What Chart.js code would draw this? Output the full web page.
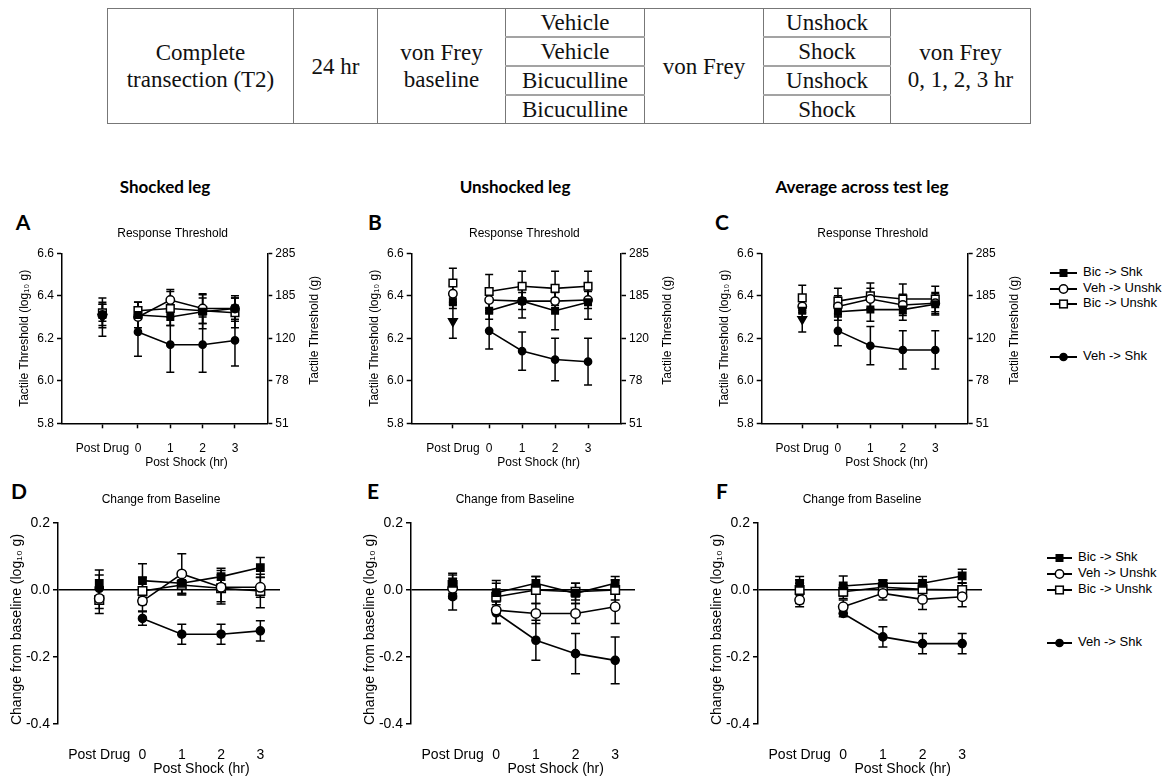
<!DOCTYPE html>
<html lang="en">
<head>
<meta charset="UTF-8">
<title>Bicuculline and shock: von Frey thresholds</title>
<script src="https://cdn.jsdelivr.net/npm/chart.js@4.4.0/dist/chart.umd.min.js"></script>
<style>
  html, body {
    margin: 0;
    padding: 0;
    background: #fff;
    width: 1168px;
    height: 778px;
    overflow: hidden;
    position: relative;
    font-family: 'Liberation Sans', Arial, sans-serif;
  }
  #design {
    position: absolute;
    left: 107px;
    top: 8px;
    width: 923px;
    border-collapse: collapse;
    table-layout: fixed;
    font-family: 'Liberation Serif', 'Times New Roman', serif;
    font-size: 23px;
    color: #111;
  }
  #design td {
    border: 1px solid #777;
    text-align: center;
    vertical-align: middle;
    padding: 0;
    height: 27px;
    line-height: 27px;
  }
  #design td.sub { border-top: 2px solid #a3a3a3; }
  .head, .letter {
    position: absolute;
    transform: translate(-50%, -50%);
    white-space: nowrap;
    font-family: Lato, 'Open Sans', sans-serif;
    font-weight: bold;
    color: #000;
  }
  .head { font-size: 17px; }
  .letter { font-size: 21px; }
  canvas { position: absolute; }
  .lg {
    position: absolute;
    height: 14px;
    font-size: 13px;
    line-height: 14px;
    white-space: nowrap;
    color: #000;
  }
  .lg svg { position: absolute; left: 0; top: 0; }
  .lg span { position: absolute; top: -1px; }
</style>
</head>
<body>

<table id="design">
  <colgroup>
    <col style="width:186px"><col style="width:84px"><col style="width:128px"><col style="width:139px">
    <col style="width:119px"><col style="width:127px"><col style="width:140px">
  </colgroup>
  <tr>
    <td rowspan="4">Complete<br>transection (T2)</td>
    <td rowspan="4">24 hr</td>
    <td rowspan="4">von Frey<br>baseline</td>
    <td>Vehicle</td>
    <td rowspan="4">von Frey</td>
    <td>Unshock</td>
    <td rowspan="4">von Frey<br>0, 1, 2, 3 hr</td>
  </tr>
  <tr><td class="sub">Vehicle</td><td class="sub">Shock</td></tr>
  <tr><td class="sub">Bicuculline</td><td class="sub">Unshock</td></tr>
  <tr><td class="sub">Bicuculline</td><td class="sub">Shock</td></tr>
</table>

<div class="head" style="left:165px; top:186px">Shocked leg</div>
<div class="head" style="left:515px; top:186px">Unshocked leg</div>
<div class="head" style="left:862px; top:186px">Average across test leg</div>

<div class="letter" style="left:23px; top:221px">A</div>
<div class="letter" style="left:375px; top:221px">B</div>
<div class="letter" style="left:722px; top:221px">C</div>
<div class="letter" style="left:19px; top:490px">D</div>
<div class="letter" style="left:373px; top:490px">E</div>
<div class="letter" style="left:722px; top:490px">F</div>

<canvas id="cA" width="340" height="280" style="left:0px; top:200px"></canvas>
<canvas id="cB" width="360" height="280" style="left:340px; top:200px"></canvas>
<canvas id="cC" width="330" height="280" style="left:700px; top:200px"></canvas>
<canvas id="cD" width="340" height="298" style="left:0px; top:480px"></canvas>
<canvas id="cE" width="360" height="298" style="left:340px; top:480px"></canvas>
<canvas id="cF" width="330" height="298" style="left:700px; top:480px"></canvas>

<div id="legendTop"></div>
<div id="legendBottom"></div>

<script>
    // x positions and labels (Post Drug sits a little before hour 0)
    const xLabels = ['Post Drug', '0', '1', '2', '3'];
    const xPos = [-1.1, 0, 1, 2, 3];
    const seriesNames = ['Bic -> Shk', 'Veh -> Unshk', 'Bic -> Unshk', 'Veh -> Shk'];
    const logTicks = [5.8, 6.0, 6.2, 6.4, 6.6];
    const gramTicks = ['51', '78', '120', '185', '285'];
    const changeTicks = [-0.4, -0.2, 0.0, 0.2];

    // rows: Bic->Shk, Veh->Unshk, Bic->Unshk, Veh->Shk ; cols: Post Drug, 0, 1, 2, 3
    const shockedThr = [
        [6.31, 6.31, 6.30, 6.325, 6.34],
        [6.31, 6.30, 6.38, 6.34, 6.34],
        [6.32, 6.33, 6.34, 6.33, 6.32],
        [6.30, 6.23, 6.17, 6.17, 6.19]
    ];
    const shockedThrSem = [
        [0.06, 0.06, 0.04, 0.08, 0.06],
        [0.05, 0.07, 0.05, 0.07, 0.05],
        [0.04, 0.04, 0.08, 0.06, 0.07],
        [0.09, 0.115, 0.13, 0.13, 0.12]
    ];
    const unshockedThr = [
        [6.37, 6.33, 6.375, 6.33, 6.37],
        [6.41, 6.38, 6.375, 6.375, 6.38],
        [6.46, 6.42, 6.445, 6.435, 6.445],
        [6.28, 6.235, 6.14, 6.10, 6.09]
    ];
    const unshockedThrSem = [
        [0.03, 0.04, 0.08, 0.09, 0.08],
        [0.04, 0.05, 0.04, 0.04, 0.04],
        [0.07, 0.08, 0.07, 0.08, 0.07],
        [0.08, 0.085, 0.09, 0.10, 0.11]
    ];
    const averageThr = [
        [6.33, 6.325, 6.335, 6.335, 6.36],
        [6.35, 6.35, 6.385, 6.357, 6.365],
        [6.39, 6.375, 6.40, 6.385, 6.385],
        [6.29, 6.235, 6.165, 6.145, 6.145]
    ];
    const averageThrSem = [
        [0.03, 0.04, 0.055, 0.05, 0.05],
        [0.03, 0.05, 0.05, 0.05, 0.05],
        [0.06, 0.06, 0.06, 0.07, 0.06],
        [0.06, 0.07, 0.09, 0.09, 0.09]
    ];
    const shockedChange = [
        [0.02, 0.028, 0.02, 0.04, 0.067],
        [-0.025, -0.033, 0.048, 0.008, 0.008],
        [-0.03, -0.003, 0.015, 0.005, -0.003],
        [0.005, -0.085, -0.132, -0.132, -0.122]
    ];
    const shockedChangeSem = [
        [0.04, 0.05, 0.03, 0.025, 0.03],
        [0.03, 0.03, 0.06, 0.05, 0.03],
        [0.04, 0.04, 0.03, 0.04, 0.05],
        [0.04, 0.02, 0.03, 0.03, 0.03]
    ];
    const unshockedChange = [
        [0.02, -0.008, 0.02, -0.01, 0.02],
        [0.005, -0.06, -0.07, -0.07, -0.05],
        [0.015, -0.02, 0.0, -0.005, 0.0],
        [-0.02, -0.068, -0.15, -0.19, -0.21]
    ];
    const unshockedChangeSem = [
        [0.03, 0.036, 0.02, 0.03, 0.02],
        [0.03, 0.04, 0.03, 0.03, 0.05],
        [0.03, 0.04, 0.04, 0.025, 0.03],
        [0.04, 0.032, 0.06, 0.06, 0.07]
    ];
    const averageChange = [
        [0.02, 0.012, 0.02, 0.02, 0.042],
        [-0.03, -0.05, -0.01, -0.028, -0.02],
        [0.0, -0.005, 0.008, 0.002, 0.0],
        [-0.01, -0.07, -0.14, -0.16, -0.16]
    ];
    const averageChangeSem = [
        [0.02, 0.03, 0.01, 0.02, 0.02],
        [0.02, 0.02, 0.02, 0.03, 0.03],
        [0.03, 0.02, 0.02, 0.02, 0.02],
        [0.03, 0.01, 0.03, 0.03, 0.03]
    ];

    const FONT = "'Liberation Sans', Arial, sans-serif";
    Chart.defaults.font.family = FONT;
    Chart.defaults.color = '#000';

    // marker looks per series: filled square, open circle, open square, filled circle
    const markers = [
        { style: 'rect', r: 4.6, fill: '#000' },
        { style: 'circle', r: 4.2, fill: '#fff' },
        { style: 'rect', r: 5.4, fill: '#fff' },
        { style: 'circle', r: 3.6, fill: '#000' }
    ];

    // error bars, drawn under the lines and markers
    const errorBars = {
        id: 'errorBars',
        beforeDatasetsDraw(chart, args, opts) {
            const ctx = chart.ctx;
            const ys = chart.scales.y;
            ctx.save();
            ctx.strokeStyle = '#000';
            ctx.lineWidth = 1.5;
            chart.data.datasets.forEach((ds, i) => {
                const meta = chart.getDatasetMeta(i);
                ds.data.forEach((pt, j) => {
                    if (pt.y == null || !pt.e) return;
                    const x = meta.data[j].x;
                    const y1 = ys.getPixelForValue(pt.y + pt.e);
                    const y2 = ys.getPixelForValue(pt.y - pt.e);
                    const c = opts.cap;
                    ctx.beginPath();
                    ctx.moveTo(x, y1); ctx.lineTo(x, y2);
                    ctx.moveTo(x - c, y1); ctx.lineTo(x + c, y1);
                    ctx.moveTo(x - c, y2); ctx.lineTo(x + c, y2);
                    ctx.stroke();
                });
            });
            ctx.restore();
        }
    };

    // panel title and axis titles
    const extras = {
        id: 'extras',
        afterDraw(chart, args, o) {
            const ctx = chart.ctx;
            const a = chart.chartArea;
            ctx.save();
            ctx.fillStyle = '#000';
            ctx.textAlign = 'center';
            ctx.textBaseline = 'middle';
            ctx.font = '12px ' + FONT;
            ctx.fillText(o.title, (a.left + a.right) / 2 + o.titleDx, a.top - o.titleGap);
            ctx.font = o.size + 'px ' + FONT;
            ctx.fillText('Post Shock (hr)', chart.scales.x.getPixelForValue(1.5), a.bottom + o.xTitleGap);
            ctx.save();
            ctx.translate(a.left - o.yTitleGap, (a.top + a.bottom) / 2 + o.yTitleDy);
            ctx.rotate(-Math.PI / 2);
            ctx.fillText(o.yTitle, 0, 0);
            ctx.restore();
            if (o.rightTitle) {
                ctx.translate(a.right + 47, (a.top + a.bottom) / 2 - 8);
                ctx.rotate(-Math.PI / 2);
                ctx.fillText(o.rightTitle, 0, 0);
            }
            ctx.restore();
        }
    };

    function buildDatasets(means, sems, triangleFirst, scale) {
        return means.map((row, s) => {
            const pts = [];
            row.forEach((v, i) => {
                pts.push({ x: xPos[i], y: v, e: sems[s][i] });
                if (i === 0) pts.push({ x: (xPos[0] + xPos[1]) / 2, y: null });
            });
            const m = markers[s];
            let style = m.style, radius = m.r * scale, rotation = 0;
            if (triangleFirst && s === 3) {
                style = pts.map((p, i) => i === 0 ? 'triangle' : 'circle');
                radius = pts.map((p, i) => i === 0 ? 5 * scale : m.r * scale);
                rotation = pts.map((p, i) => i === 0 ? 180 : 0);
            }
            return {
                label: seriesNames[s],
                data: pts,
                borderColor: '#000',
                borderWidth: 1.6,
                pointStyle: style,
                pointRadius: radius,
                pointRotation: rotation,
                pointBackgroundColor: m.fill,
                pointBorderColor: '#000',
                pointBorderWidth: 1.5,
                spanGaps: false,
                tension: 0
            };
        });
    }

    const setXTicks = s => { s.ticks = xPos.map(v => ({ value: v })); };

    function thresholdChart(id, means, sems, wLeft, wRight) {
        return new Chart(document.getElementById(id), {
            type: 'line',
            data: { datasets: buildDatasets(means, sems, true, 1) },
            plugins: [errorBars, extras],
            options: {
                responsive: false,
                animation: false,
                devicePixelRatio: 1,
                layout: { padding: { top: 53.3, left: 0, right: 0, bottom: 0 } },
                plugins: {
                    legend: { display: false },
                    tooltip: { enabled: false },
                    errorBars: { cap: 4 },
                    extras: {
                        title: 'Response Threshold', titleDx: 8, titleGap: 20, size: 12,
                        xTitleGap: 39, yTitleGap: 37, yTitleDy: 0,
                        yTitle: 'Tactile Threshold (log\u2081\u2080 g)',
                        rightTitle: 'Tactile Threshold (g)'
                    }
                },
                scales: {
                    x: {
                        type: 'linear', min: -2.35, max: 4.0,
                        afterBuildTicks: setXTicks,
                        afterFit: s => { s.height = 56.7; },
                        ticks: { callback: (v, i) => xLabels[i], padding: 13, autoSkip: false, maxRotation: 0, font: { size: 12 } },
                        grid: { drawOnChartArea: false, drawTicks: true, tickLength: 5, tickColor: '#000', tickWidth: 1.5 },
                        border: { display: true, color: '#000', width: 1.5 }
                    },
                    y: {
                        position: 'left', min: 5.8, max: 6.6,
                        afterBuildTicks: s => { s.ticks = logTicks.map(v => ({ value: v })); },
                        afterFit: s => { s.width = wLeft; },
                        ticks: { callback: v => v.toFixed(1), padding: 3, autoSkip: false, font: { size: 12 } },
                        grid: { drawOnChartArea: false, drawTicks: true, tickLength: 5, tickColor: '#000', tickWidth: 1.5 },
                        border: { display: true, color: '#000', width: 1.5 }
                    },
                    y2: {
                        position: 'right', min: 5.8, max: 6.6,
                        afterBuildTicks: s => { s.ticks = logTicks.map(v => ({ value: v })); },
                        afterFit: s => { s.width = wRight; },
                        ticks: { callback: (v, i) => gramTicks[i], padding: 3, autoSkip: false, font: { size: 12 } },
                        grid: { drawOnChartArea: false, drawTicks: true, tickLength: 5, tickColor: '#000', tickWidth: 1.5 },
                        border: { display: true, color: '#000', width: 1.5 }
                    }
                }
            }
        });
    }

    function changeChart(id, means, sems, wLeft, padRight) {
        return new Chart(document.getElementById(id), {
            type: 'line',
            data: { datasets: buildDatasets(means, sems, false, 1.12) },
            plugins: [errorBars, extras],
            options: {
                responsive: false,
                animation: false,
                devicePixelRatio: 1,
                layout: { padding: { top: 43, left: 0, right: padRight, bottom: 0 } },
                plugins: {
                    legend: { display: false },
                    tooltip: { enabled: false },
                    errorBars: { cap: 4.5 },
                    extras: {
                        title: 'Change from Baseline', titleDx: -8, titleGap: 23, size: 14,
                        xTitleGap: 45, yTitleGap: 41, yTitleDy: 6,
                        yTitle: 'Change from baseline (log\u2081\u2080 g)'
                    }
                },
                scales: {
                    x: {
                        type: 'linear', min: -2.15, max: 3.5,
                        afterBuildTicks: setXTicks,
                        afterFit: s => { s.height = 54; },
                        ticks: { callback: (v, i) => xLabels[i], padding: 15, autoSkip: false, maxRotation: 0, font: { size: 14 } },
                        grid: { display: false },
                        border: { display: false }
                    },
                    y: {
                        position: 'left', min: -0.4, max: 0.2,
                        afterBuildTicks: s => { s.ticks = changeTicks.map(v => ({ value: v })); },
                        afterFit: s => { s.width = wLeft; },
                        ticks: { callback: v => v.toFixed(1), padding: 3, autoSkip: false, font: { size: 14 } },
                        grid: {
                            drawOnChartArea: true,
                            color: c => (c.tick && Math.abs(c.tick.value) < 1e-9) ? '#000' : 'rgba(0,0,0,0)',
                            lineWidth: 1.5,
                            drawTicks: true, tickLength: 5, tickColor: '#000', tickWidth: 1.5
                        },
                        border: { display: true, color: '#000', width: 1.5 }
                    }
                }
            }
        });
    }

    thresholdChart('cA', shockedThr, shockedThrSem, 62, 72.7);
    thresholdChart('cB', unshockedThr, unshockedThrSem, 71.7, 79);
    thresholdChart('cC', averageThr, averageThrSem, 61.7, 62.3);
    changeChart('cD', shockedChange, shockedChangeSem, 58, 60);
    changeChart('cE', unshockedChange, unshockedChangeSem, 71, 65);
    changeChart('cF', averageChange, averageChangeSem, 58, 48);

    // legends (one per row of panels)
    function markerSvg(s, cx) {
        const m = markers[s];
        if (m.style === 'rect') {
            const h = m.r * Math.SQRT1_2;
            return `<rect x="${cx - h}" y="${7 - h}" width="${2 * h}" height="${2 * h}" fill="${m.fill}" stroke="#000" stroke-width="1.5"/>`;
        }
        return `<circle cx="${cx}" cy="7" r="${m.r}" fill="${m.fill}" stroke="#000" stroke-width="1.5"/>`;
    }

    function buildLegend(el, left, lineW, rowsY) {
        el.innerHTML = seriesNames.map((name, s) =>
            `<div class="lg" style="left:${left}px; top:${rowsY[s] - 7}px">` +
            `<svg width="${lineW}" height="14"><line x1="0" y1="7" x2="${lineW}" y2="7" stroke="#000" stroke-width="2"/>${markerSvg(s, lineW / 2)}</svg>` +
            `<span style="left:${lineW + 6}px">${name.replace(/>/g, '&gt;')}</span></div>`
        ).join('');
    }

    buildLegend(document.getElementById('legendTop'), 1050, 27, [273, 288.5, 304, 357]);
    buildLegend(document.getElementById('legendBottom'), 1047, 25, [558, 574, 590, 643]);
</script>
</body>
</html>
